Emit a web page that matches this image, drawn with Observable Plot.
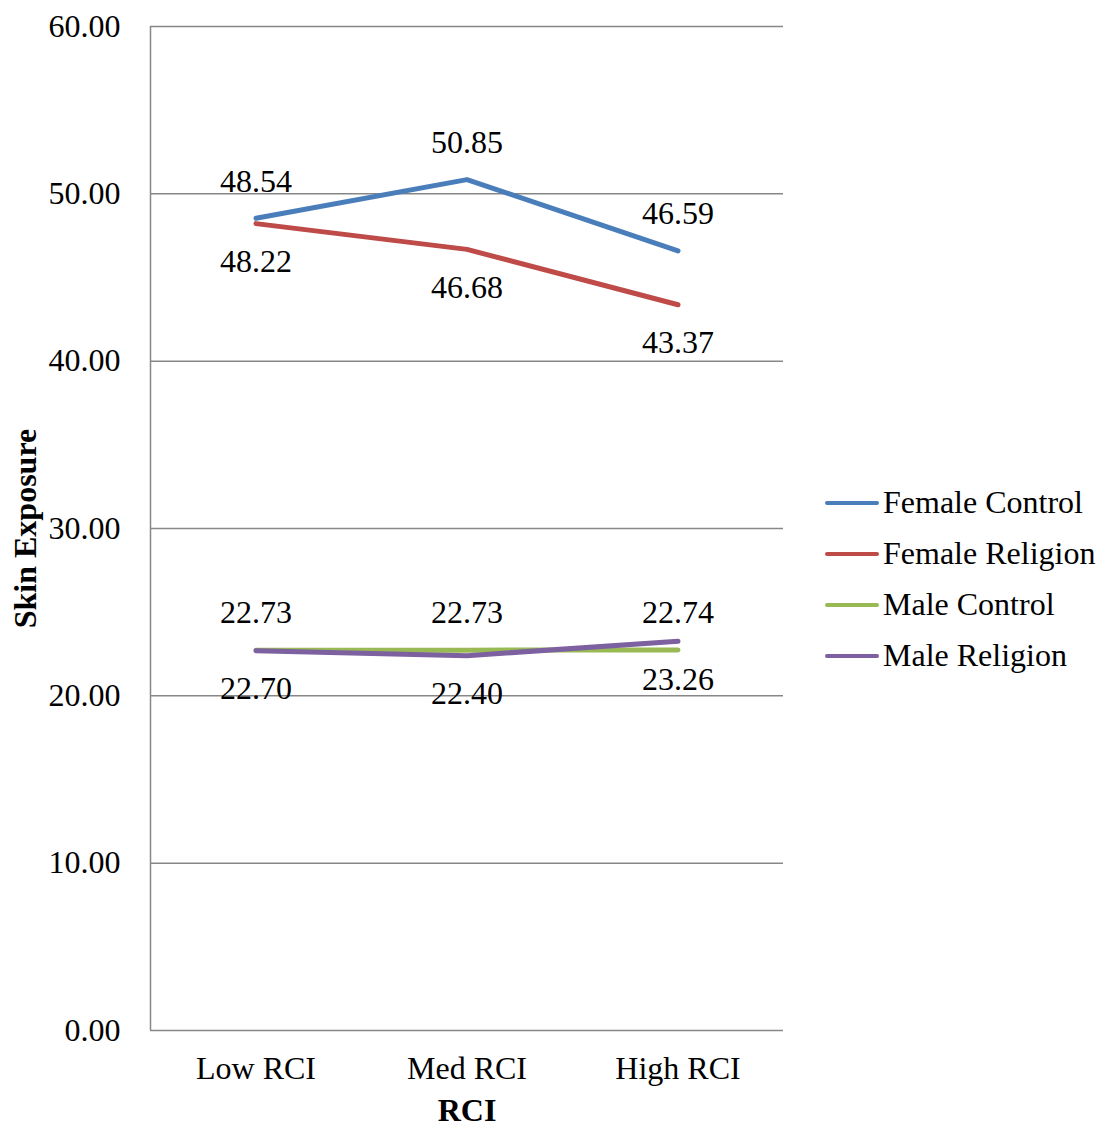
<!DOCTYPE html>
<html>
<head>
<meta charset="utf-8">
<script src="https://cdn.jsdelivr.net/npm/d3@7"></script>
<script src="https://cdn.jsdelivr.net/npm/@observablehq/plot@0.6"></script>
<style>
  html, body { margin: 0; padding: 0; background: #fff; }
  #wrap { position: relative; width: 1100px; height: 1129px; font-family: "Liberation Serif", "Times New Roman", serif; }
  #legend { position: absolute; left: 825px; top: 477px; font-size: 32px; color: #000; }
  .item { display: flex; align-items: center; height: 51px; white-space: nowrap; }
  .swatch { width: 54px; height: 4px; border-radius: 2px; margin-right: 4px; }
</style>
</head>
<body>
<div id="wrap"><div id="legend"></div></div>
<script>
const categories = ["Low RCI", "Med RCI", "High RCI"];
const seriesNames = ["Female Control", "Female Religion", "Male Control", "Male Religion"];
const femaleControl = [48.54, 50.85, 46.59];
const femaleReligion = [48.22, 46.68, 43.37];
const maleControl = [22.73, 22.73, 22.74];
const maleReligion = [22.70, 22.40, 23.26];
const yTicks = [0, 10, 20, 30, 40, 50, 60];
const colors = ["#4A7EBB", "#BE4B48", "#98B954", "#7D60A0"];
const labelAbove = [true, false, true, false];

const allValues = [femaleControl, femaleReligion, maleControl, maleReligion];
const data = [];
seriesNames.forEach((s, i) => {
  categories.forEach((c, j) => data.push({series: s, cat: c, value: allValues[i][j], above: labelAbove[i]}));
});

const chart = Plot.plot({
  width: 1100,
  height: 1129,
  marginLeft: 150,
  marginRight: 317,
  marginTop: 26,
  marginBottom: 99,
  style: {fontFamily: "'Liberation Serif', 'Times New Roman', serif", fontSize: "32px", color: "#000", background: "#fff"},
  x: {type: "band", domain: categories, padding: 0, label: null},
  y: {domain: [0, 60], label: null},
  color: {domain: seriesNames, range: colors},
  marks: [
    Plot.ruleY(yTicks.filter(d => d > 0), {stroke: "#878787", strokeWidth: 1.5, strokeOpacity: 1}),
    Plot.ruleY([0], {stroke: "#878787", strokeWidth: 1.5}),
    Plot.ruleX([categories[0]], {stroke: "#878787", strokeWidth: 1.5, dx: -105.5, y1: 0, y2: 60}),
    Plot.axisY({ticks: yTicks, tickFormat: d3.format(".2f"), tickSize: 0, tickPadding: 30, fontSize: 32, label: null}),
    Plot.axisX({tickSize: 0, tickPadding: 26, fontSize: 32, label: null}),
    Plot.text(["Skin Exposure"], {frameAnchor: "left", textAnchor: "middle", dx: -125, rotate: -90, fontWeight: "bold", fontSize: 32}),
    Plot.text(["RCI"], {frameAnchor: "bottom", textAnchor: "middle", dy: 90, fontWeight: "bold", fontSize: 32}),
    Plot.line(data, {x: "cat", y: "value", z: "series", stroke: "series", strokeWidth: 5, strokeLinecap: "round", strokeLinejoin: "round"}),
    Plot.text(data.filter(d => d.above), {x: "cat", y: "value", text: d => d.value.toFixed(2), dy: -37, fontSize: 32, fill: "#000"}),
    Plot.text(data.filter(d => !d.above), {x: "cat", y: "value", text: d => d.value.toFixed(2), dy: 38, fontSize: 32, fill: "#000"})
  ]
});
const wrap = document.getElementById("wrap");
wrap.insertBefore(chart, wrap.firstChild);

const legend = document.getElementById("legend");
seriesNames.forEach((s, i) => {
  const item = document.createElement("div");
  item.className = "item";
  const sw = document.createElement("div");
  sw.className = "swatch";
  sw.style.background = colors[i];
  const t = document.createElement("span");
  t.textContent = s;
  item.appendChild(sw);
  item.appendChild(t);
  legend.appendChild(item);
});
</script>
</body>
</html>
